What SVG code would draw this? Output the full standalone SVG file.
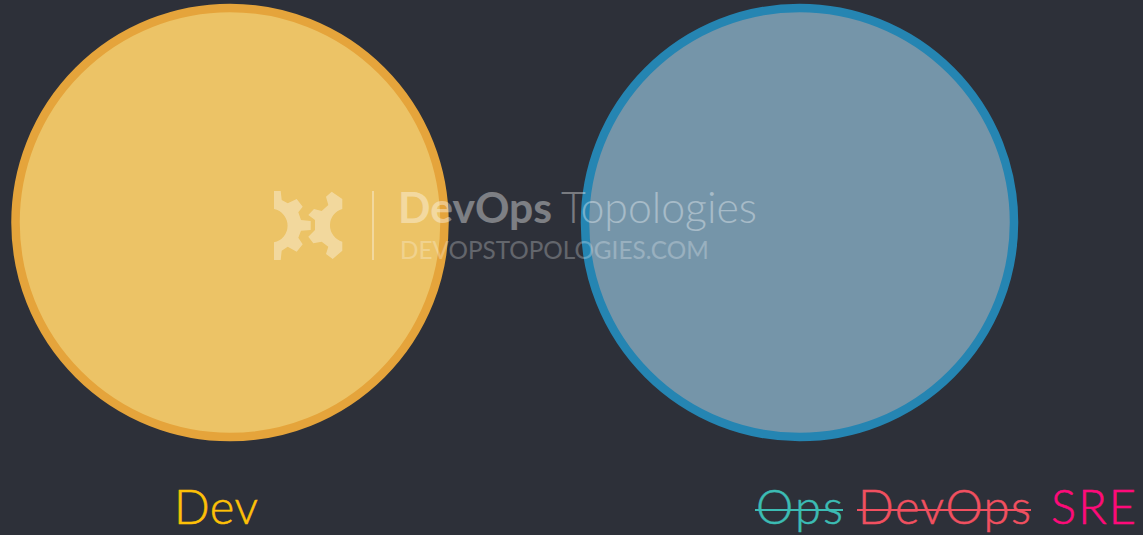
<svg xmlns="http://www.w3.org/2000/svg" width="1143" height="535" viewBox="0 0 1143 535">
<style>
.label{font-family:"Lato","Liberation Sans",sans-serif;font-weight:300;font-size:47px;stroke-width:.5}
.strike{stroke-width:2}
.wm{font-family:"Lato","Liberation Sans",sans-serif;fill:#fff}
</style>
<rect width="1143" height="535" fill="#2d3039"/>
<g id="dev-circle"><circle cx="230" cy="222.500" r="214.500" fill="#ecc366" stroke="#e5a43b" stroke-width="8.500"/></g>
<g id="ops-circle"><circle cx="799.500" cy="222.500" r="214.500" fill="#7595a9" stroke="#2585b2" stroke-width="8.500"/></g>
<g id="watermark">
<g fill="#fff" opacity=".36">
<path d="M274 191H280.700L281.700 200L287.700 203.300L296.700 199L302.700 206.700L298.300 212.300L301 220L310.700 221V230L301 230.700L298.300 237.700L302.700 244.300L296.700 251.700L287.700 246.700L281.700 250.700L280.700 260H274V242.300A17 17 0 0 0 274 209Z"/>
<path d="M342.300 199V209A17 17 0 0 0 342.300 241.700V250.700L332.700 259L326 254L328.300 246.700L321.700 241.700L313.300 243.300L308.300 236.700L315 230V220L308.300 215L314 209L321.700 211L328.300 205L326 196.700L331.700 191.700Z"/>
<rect x="372" y="191" width="2" height="69"/>
</g>
<text class="wm" x="398" y="223" font-size="42.700" font-weight="700" opacity=".38">DevOps</text>
<text class="wm" x="561" y="223" font-size="42.800" font-weight="300" opacity=".36">Topologies</text>
<text class="wm" x="400" y="258.500" font-size="24.300" font-weight="400" opacity=".26">DEVOPSTOPOLOGIES.COM</text>
</g>
<g id="labels">
<text class="label" x="174" y="524" fill="#fec107" stroke="#fec107" textLength="84" lengthAdjust="spacing">Dev</text>
<text class="label" x="756" y="524" fill="#3cbcb4" stroke="#3cbcb4" textLength="87" lengthAdjust="spacing">Ops</text>
<line class="strike" x1="755" y1="510" x2="843" y2="510" stroke="#3cbcb4"/>
<text class="label" x="858" y="524" fill="#f15060" stroke="#f15060" textLength="173" lengthAdjust="spacing">DevOps</text>
<line class="strike" x1="857" y1="510" x2="1031" y2="510" stroke="#f15060"/>
<text class="label" x="1051" y="524" fill="#fe0a7a" stroke="#fe0a7a" textLength="85" lengthAdjust="spacing">SRE</text>
</g>
</svg>
